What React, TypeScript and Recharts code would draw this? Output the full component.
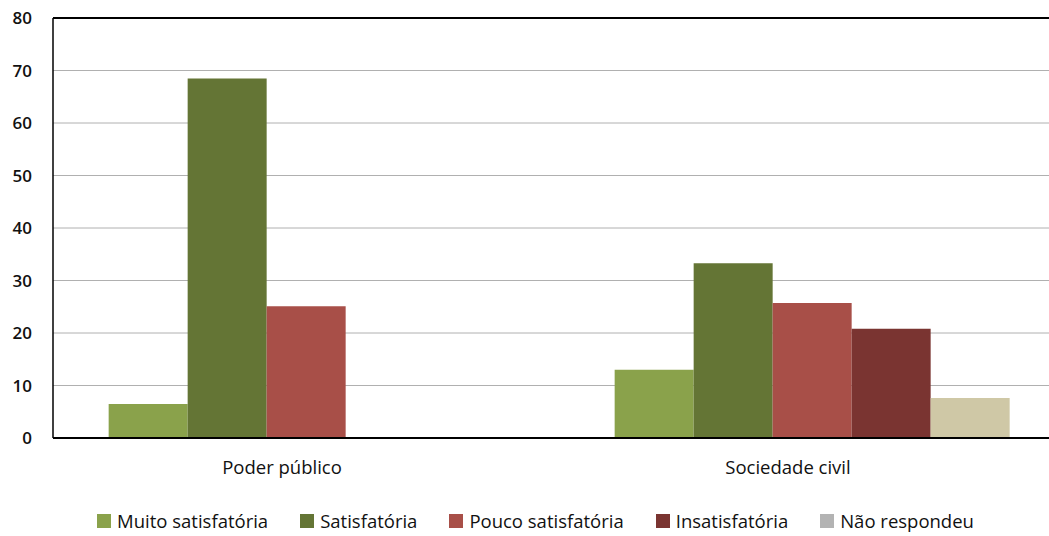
import React from "react";
import {
  BarChart,
  Bar,
  XAxis,
  YAxis,
  CartesianGrid,
  Legend,
  ReferenceLine,
} from "recharts";

const categories = ["Poder público", "Sociedade civil"];
const muitoSatisfatoria = [6.5, 13];
const satisfatoria = [68.5, 33.3];
const poucoSatisfatoria = [25.1, 25.7];
const insatisfatoria = [0, 20.8];
const naoRespondeu = [0, 7.6];
const yTicks = [0, 10, 20, 30, 40, 50, 60, 70, 80];

const series = [
  { key: "muito", name: "Muito satisfatória", fill: "#8aa24b", swatch: "#8aa24b" },
  { key: "sat", name: "Satisfatória", fill: "#647535", swatch: "#647535" },
  { key: "pouco", name: "Pouco satisfatória", fill: "#a84f48", swatch: "#a84f48" },
  { key: "insat", name: "Insatisfatória", fill: "#7a3431", swatch: "#7a3431" },
  { key: "nao", name: "Não respondeu", fill: "#cfc8a6", swatch: "#b3b3b3" },
];

const data = categories.map((name, i) => ({
  name,
  muito: muitoSatisfatoria[i],
  sat: satisfatoria[i],
  pouco: poucoSatisfatoria[i],
  insat: insatisfatoria[i],
  nao: naoRespondeu[i],
}));

const FONT = "'Open Sans', 'Noto Sans', sans-serif";

const LegendContent = () => (
  <div
    style={{
      display: "flex",
      justifyContent: "center",
      alignItems: "center",
      paddingTop: 22,
      paddingLeft: 6,
      fontFamily: FONT,
      fontSize: 18.5,
      lineHeight: "22px",
      color: "#111",
    }}
  >
    {series.map((s) => (
      <div key={s.key} style={{ display: "flex", alignItems: "center", margin: "0 16px" }}>
        <span
          style={{
            display: "inline-block",
            width: 14,
            height: 14,
            background: s.swatch,
            marginRight: 6,
          }}
        />
        <span>{s.name}</span>
      </div>
    ))}
  </div>
);

const App = () => {
  return (
    <div
      style={{
        position: "absolute",
        left: 0,
        top: 0,
        width: 1049,
        height: 536,
        overflow: "hidden",
        background: "#fff",
      }}
    >
      <BarChart
        width={1065}
        height={570}
        data={data}
        barCategoryGap="11%"
        barGap={0}
        margin={{ top: 18, right: 0, left: 0, bottom: 0 }}
      >
        <CartesianGrid vertical={false} stroke="#b0b0b0" />
        <XAxis
          dataKey="name"
          axisLine={{ stroke: "#000", strokeWidth: 2 }}
          tickLine={false}
          height={50}
          tickMargin={17}
          tick={{ fill: "#111", fontSize: 18.5, fontFamily: FONT, dx: -24 }}
        />
        <YAxis
          domain={[0, 80]}
          ticks={yTicks}
          width={53}
          axisLine={{ stroke: "#000", strokeWidth: 1.5 }}
          tickLine={false}
          tickSize={0}
          tickMargin={21}
          tick={{ fill: "#111", fontSize: 17, fontFamily: FONT, fontWeight: 600 }}
        />
        <ReferenceLine y={80} stroke="#000" strokeWidth={2} />
        <Legend verticalAlign="bottom" height={82} content={<LegendContent />} />
        {series.map((s) => (
          <Bar
            key={s.key}
            dataKey={s.key}
            name={s.name}
            fill={s.fill}
            isAnimationActive={false}
          />
        ))}
      </BarChart>
    </div>
  );
};

export default App;
